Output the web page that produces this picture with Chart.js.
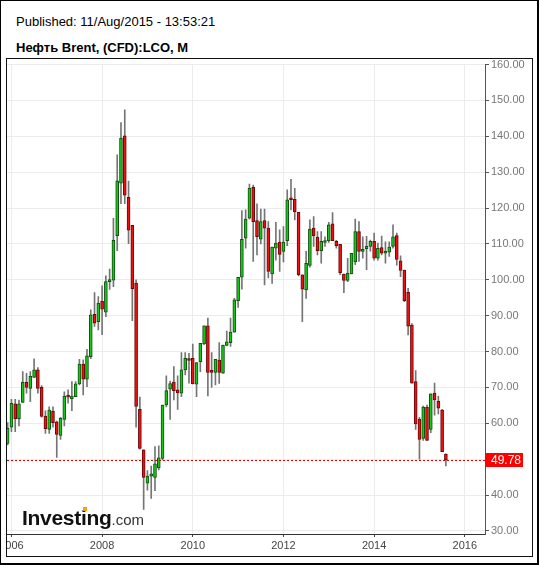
<!DOCTYPE html>
<html>
<head>
<meta charset="utf-8">
<script src="https://cdn.jsdelivr.net/npm/chart.js@4/dist/chart.umd.min.js"></script>
<style>
  html, body { margin: 0; padding: 0; background: #fff; }
  body { width: 539px; height: 565px; position: relative; overflow: hidden; font-family: Arial, "Liberation Sans", sans-serif; }
  #frame { position: absolute; left: 0; top: 0; width: 539px; height: 565px; box-sizing: border-box; border-style: solid; border-color: #000; border-width: 1px 2px 2px 1px; }
  .hdr { position: absolute; left: 16px; font-size: 13px; line-height: 13px; color: #000; white-space: nowrap; }
  #published { top: 15px; }
  #title { top: 41px; font-weight: bold; }
  #box { position: absolute; left: 6px; top: 58px; width: 525px; height: 497px; border: 1px solid #111; }
  #box canvas { position: absolute; left: 0; top: 0; }
  #logo { position: absolute; left: 22px; top: 507px; line-height: 21px; white-space: nowrap; color: #111; }
  #logo .brand { font-size: 21px; font-weight: bold; letter-spacing: -0.3px; }
  #logo .dom { font-size: 15px; color: #333; }
  #dot { position: absolute; left: 83px; top: 507px; width: 4px; height: 4px; background: #f5a300; }
</style>
</head>
<body>
<div id="frame"></div>
<div class="hdr" id="published">Published: 11/Aug/2015 - 13:53:21</div>
<div class="hdr" id="title">Нефть Brent, (CFD):LCO, M</div>
<div id="box"><canvas id="chart" width="525" height="497"></canvas></div>
<div id="logo"><span class="brand">Investing</span><span class="dom">.com</span></div>
<div id="dot"></div>
<script>
// monthly candles, Dec 2005 .. Aug 2015
const months = [
  "2005-12",
  "2006-01","2006-02","2006-03","2006-04","2006-05","2006-06","2006-07","2006-08","2006-09","2006-10","2006-11","2006-12",
  "2007-01","2007-02","2007-03","2007-04","2007-05","2007-06","2007-07","2007-08","2007-09","2007-10","2007-11","2007-12",
  "2008-01","2008-02","2008-03","2008-04","2008-05","2008-06","2008-07","2008-08","2008-09","2008-10","2008-11","2008-12",
  "2009-01","2009-02","2009-03","2009-04","2009-05","2009-06","2009-07","2009-08","2009-09","2009-10","2009-11","2009-12",
  "2010-01","2010-02","2010-03","2010-04","2010-05","2010-06","2010-07","2010-08","2010-09","2010-10","2010-11","2010-12",
  "2011-01","2011-02","2011-03","2011-04","2011-05","2011-06","2011-07","2011-08","2011-09","2011-10","2011-11","2011-12",
  "2012-01","2012-02","2012-03","2012-04","2012-05","2012-06","2012-07","2012-08","2012-09","2012-10","2012-11","2012-12",
  "2013-01","2013-02","2013-03","2013-04","2013-05","2013-06","2013-07","2013-08","2013-09","2013-10","2013-11","2013-12",
  "2014-01","2014-02","2014-03","2014-04","2014-05","2014-06","2014-07","2014-08","2014-09","2014-10","2014-11","2014-12",
  "2015-01","2015-02","2015-03","2015-04","2015-05","2015-06","2015-07","2015-08"
];

const opens = [
  54.4,
  58.9, 65.4, 61.3, 65.8, 71.4, 69.7, 72.8, 74.9, 70.0, 62.0, 58.3, 63.4,
  60.4, 56.6, 61.1, 67.6, 66.9, 67.4, 71.0, 76.5, 72.3, 78.6, 90.4, 88.3,
  94.0, 91.0, 99.5, 99.9, 112.3, 126.9, 140.1, 123.0, 115.2, 99.1, 63.9, 52.6,
  43.3, 45.3, 44.9, 47.6, 50.2, 65.1, 69.5, 71.5, 69.3, 68.4, 74.9, 77.9,
  78.1, 70.9, 77.2, 82.1, 87.2, 74.5, 74.2, 77.6, 74.0, 81.7, 82.5, 85.4,
  94.2, 100.7, 111.6, 117.2, 125.8, 116.5, 111.3, 116.5, 114.4, 101.6, 108.8, 110.5,
  107.9, 110.9, 122.7, 122.4, 118.8, 101.4, 97.2, 104.0, 114.4, 111.9, 108.1, 110.4,
  110.9, 115.6, 110.7, 109.9, 101.6, 99.8, 101.6, 105.0, 113.4, 107.9, 108.7, 109.3,
  110.7, 106.0, 109.0, 107.4, 107.7, 109.3, 112.3, 105.3, 102.7, 96.5, 87.4, 71.6,
  61.1, 55.8, 64.5, 58.3, 68.4, 66.2, 63.7, 51.4
];

const highs = [
  60.2,
  66.7, 66.7, 66.5, 74.4, 73.9, 74.4, 78.0, 75.5, 70.5, 63.5, 64.6, 64.6,
  60.6, 61.7, 68.8, 69.3, 71.6, 71.6, 77.8, 77.7, 80.6, 91.6, 96.4, 95.3,
  98.3, 101.1, 103.0, 117.1, 134.8, 143.8, 147.4, 127.5, 115.2, 100.0, 67.3, 52.6,
  46.8, 48.1, 53.5, 53.7, 65.1, 73.2, 71.8, 75.8, 73.2, 79.7, 79.7, 79.5,
  82.1, 76.9, 82.3, 87.2, 89.3, 79.7, 77.8, 82.5, 81.8, 85.7, 89.3, 94.8,
  100.7, 119.3, 119.5, 126.7, 126.4, 121.2, 119.7, 119.7, 116.2, 109.1, 116.0, 113.9,
  114.8, 125.1, 128.0, 125.5, 118.8, 101.4, 107.9, 116.7, 117.6, 113.4, 113.4, 112.0,
  116.0, 118.7, 111.0, 109.9, 101.6, 106.0, 107.4, 116.9, 116.2, 112.0, 112.1, 111.1,
  113.0, 110.2, 112.2, 110.6, 110.6, 115.3, 113.0, 106.7, 102.7, 97.6, 87.8, 74.7,
  61.7, 64.8, 65.1, 68.2, 71.2, 67.6, 63.9, 51.5
];

const lows = [
  54.0,
  57.7, 57.7, 59.3, 65.8, 68.4, 66.0, 72.8, 68.4, 61.7, 57.2, 57.2, 58.9,
  50.5, 55.5, 59.3, 65.6, 63.5, 67.4, 70.7, 67.9, 70.2, 78.0, 87.0, 86.0,
  84.7, 89.7, 97.3, 98.1, 108.1, 121.2, 121.2, 110.1, 88.6, 58.9, 52.8, 36.0,
  41.4, 39.1, 41.2, 47.0, 49.8, 64.6, 61.1, 66.5, 63.9, 67.4, 73.5, 71.2,
  71.0, 67.4, 74.4, 81.9, 67.6, 70.0, 70.7, 71.1, 73.9, 81.6, 81.4, 85.4,
  92.3, 97.4, 108.8, 116.9, 105.1, 106.9, 110.0, 98.6, 100.5, 99.0, 105.5, 102.3,
  105.0, 109.5, 119.5, 116.7, 101.1, 88.3, 94.8, 103.5, 109.3, 106.9, 104.6, 109.3,
  110.4, 110.9, 108.8, 101.4, 96.4, 99.5, 101.6, 104.2, 105.1, 106.0, 102.8, 108.0,
  105.5, 105.5, 106.9, 104.6, 106.5, 108.8, 104.1, 100.9, 93.9, 84.6, 71.2, 58.3,
  50.0, 55.2, 55.2, 57.4, 62.3, 62.6, 52.1, 48.1
];

const closes = [
  58.6,
  65.6, 61.3, 65.4, 71.4, 70.0, 73.1, 74.9, 69.7, 61.9, 58.5, 63.7, 60.2,
  56.9, 61.4, 67.6, 67.3, 67.6, 71.0, 76.5, 72.3, 78.8, 90.2, 87.9, 93.5,
  91.8, 99.5, 100.0, 111.0, 127.6, 139.5, 123.6, 113.8, 97.5, 64.7, 53.0, 44.9,
  45.3, 45.9, 48.7, 50.4, 65.1, 69.1, 71.1, 69.1, 68.5, 74.9, 78.1, 77.5,
  71.0, 76.9, 82.3, 87.2, 74.2, 74.2, 77.8, 74.2, 81.8, 82.7, 85.4, 94.4,
  100.7, 111.3, 116.9, 125.5, 116.2, 112.0, 116.2, 114.4, 102.3, 109.1, 110.2, 107.1,
  110.5, 122.3, 122.3, 119.0, 101.4, 97.4, 104.6, 114.1, 112.2, 108.1, 110.7, 110.7,
  115.3, 110.9, 109.5, 102.0, 99.8, 101.8, 107.4, 113.4, 107.9, 108.5, 109.3, 110.7,
  106.0, 108.8, 107.4, 107.9, 109.1, 112.0, 105.7, 102.6, 94.2, 87.1, 71.2, 59.8,
  55.5, 64.5, 55.2, 68.2, 66.5, 64.2, 52.1, 49.78
];

const yTicks = [30, 40, 50, 60, 70, 80, 90, 100, 110, 120, 130, 140, 150, 160];
const xTickYears = [2006, 2008, 2010, 2012, 2014, 2016];
const lastPrice = 49.78;

const baseYear = 2006;
const monthIndex = months.map(m => {
  const [y, mo] = m.split("-").map(Number);
  return (y - baseYear) * 12 + (mo - 1);
});
const isUp = closes.map((c, i) => c >= opens[i]);

const wicks = months.map((m, i) => ({ x: monthIndex[i], y: [lows[i], highs[i]] }));
const bodies = months.map((m, i) => ({ x: monthIndex[i], y: [opens[i], closes[i]] }));

const priceLine = {
  id: "priceLine",
  afterDraw(chart) {
    const { ctx, chartArea, scales } = chart;
    const y = Math.round(scales.y.getPixelForValue(lastPrice)) + 0.5;
    ctx.save();
    ctx.strokeStyle = "#d40000";
    ctx.lineWidth = 1;
    ctx.setLineDash([2, 2]);
    ctx.beginPath();
    ctx.moveTo(chartArea.left, y);
    ctx.lineTo(chartArea.right, y);
    ctx.stroke();
    ctx.setLineDash([]);
    ctx.fillStyle = "#ff0000";
    ctx.fillRect(chartArea.right, y - 7.5, 38, 14);
    ctx.fillStyle = "#fff";
    ctx.font = "12px Arial";
    ctx.textBaseline = "middle";
    ctx.fillText(lastPrice.toFixed(2), chartArea.right + 6, y + 0.5);
    ctx.restore();
  }
};

new Chart(document.getElementById("chart"), {
  type: "bar",
  data: {
    datasets: [{
      data: wicks,
      backgroundColor: "#757575",
      barThickness: 1,
      grouped: false,
      order: 2
    }, {
      data: bodies,
      backgroundColor: isUp.map(u => u ? "#17c617" : "#ee1010"),
      borderColor: isUp.map(u => u ? "#0f4f0f" : "#6a0808"),
      borderWidth: 1,
      borderSkipped: false,
      barThickness: 3,
      minBarLength: 2,
      grouped: false,
      order: 1
    }]
  },
  options: {
    responsive: false,
    animation: false,
    devicePixelRatio: 1,
    layout: {
      padding: { top: 5.5, left: 0, right: 0, bottom: 0 }
    },
    plugins: {
      legend: { display: false },
      tooltip: { enabled: false }
    },
    scales: {
      x: {
        type: "linear",
        min: -1.17,
        max: 125.35,
        offset: false,
        afterBuildTicks: s => { s.ticks = xTickYears.map(y => ({ value: (y - baseYear) * 12 })); },
        afterFit: s => { s.height = 22; s.paddingLeft = 0; s.paddingRight = 0; },
        ticks: {
          autoSkip: false,
          maxRotation: 0,
          padding: 2,
          color: "#444",
          font: { family: "Arial", size: 11 },
          callback: v => String(baseYear + v / 12)
        },
        grid: { color: "#ececec", tickColor: "#444", tickLength: 3, offset: false },
        border: { color: "#333" }
      },
      y: {
        position: "right",
        min: 29.15,
        max: 160,
        afterBuildTicks: s => { s.ticks = yTicks.map(v => ({ value: v })); },
        afterFit: s => { s.width = 47; s.paddingTop = 0; s.paddingBottom = 0; },
        ticks: {
          padding: 2,
          color: "#777",
          font: { family: "Arial", size: 11 },
          callback: v => v.toFixed(2)
        },
        grid: { color: "#ececec", tickColor: "#555", tickLength: 4 },
        border: { color: "#555" }
      }
    }
  },
  plugins: [priceLine]
});
</script>
</body>
</html>
